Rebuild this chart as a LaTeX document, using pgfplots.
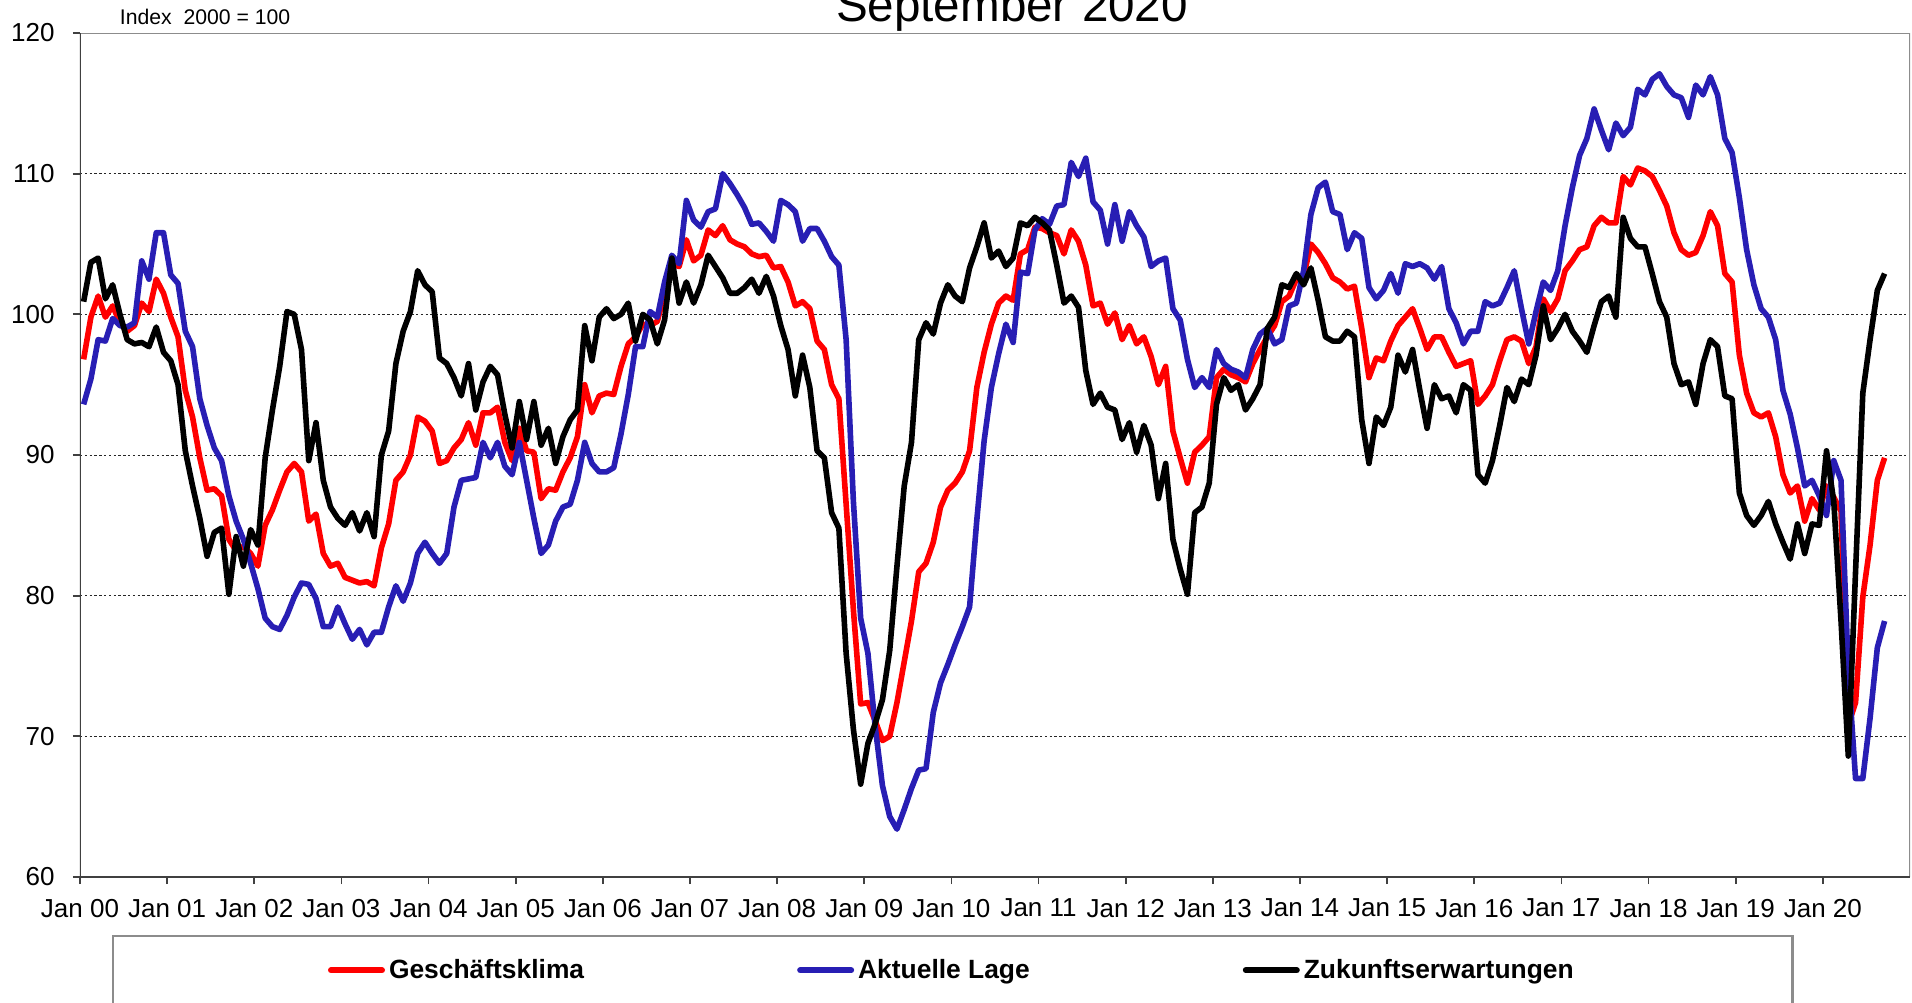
\documentclass[border=0pt]{standalone}
\usepackage{fontspec}
\setmainfont{Liberation Sans}
\usepackage{pgfplots}
\usepackage{pgfplotstable}
\pgfplotsset{compat=1.18}
\definecolor{gkred}{RGB}{255,0,0}
\definecolor{alblue}{RGB}{40,30,180}
\definecolor{axgray}{RGB}{140,140,140}

\pgfplotstableread{
k gk al ze
0 96.8 93.6 100.9
1 99.8 95.4 103.7
2 101.3 98.2 104.0
3 99.8 98.1 101.1
4 100.6 99.7 102.1
5 99.4 99.2 100.0
6 98.8 99.1 98.2
7 99.2 99.4 97.9
8 100.8 103.8 98.0
9 100.2 102.5 97.7
10 102.5 105.8 99.1
11 101.5 105.8 97.3
12 99.8 102.8 96.7
13 98.4 102.2 95.0
14 94.6 98.8 90.3
15 92.7 97.7 87.8
16 89.8 94.0 85.5
17 87.5 92.1 82.8
18 87.6 90.5 84.5
19 87.1 89.6 84.8
20 84.0 87.1 80.1
21 83.2 85.3 84.2
22 83.5 84.0 82.1
23 83.0 82.3 84.7
24 82.1 80.5 83.6
25 85.0 78.4 89.8
26 86.1 77.8 93.2
27 87.5 77.6 96.3
28 88.8 78.6 100.2
29 89.4 79.9 100.0
30 88.8 80.9 97.5
31 85.3 80.8 89.6
32 85.8 79.8 92.3
33 83.0 77.8 88.2
34 82.1 77.8 86.3
35 82.3 79.2 85.5
36 81.3 78.0 85.0
37 81.1 76.9 85.9
38 80.9 77.6 84.6
39 81.0 76.5 85.9
40 80.7 77.4 84.2
41 83.4 77.4 90.0
42 85.1 79.2 91.7
43 88.2 80.7 96.5
44 88.8 79.6 98.8
45 90.0 80.9 100.2
46 92.7 83.0 103.1
47 92.4 83.8 102.1
48 91.7 83.0 101.6
49 89.4 82.3 96.9
50 89.6 83.0 96.5
51 90.5 86.3 95.5
52 91.1 88.2 94.2
53 92.3 88.3 96.5
54 90.7 88.4 93.2
55 93.0 90.9 95.2
56 93.0 89.8 96.3
57 93.4 90.9 95.7
58 90.9 89.2 92.9
59 89.6 88.6 90.5
60 91.9 90.9 93.8
61 90.3 88.2 91.1
62 90.2 85.5 93.8
63 86.9 83.0 90.7
64 87.6 83.6 91.9
65 87.5 85.3 89.4
66 88.8 86.3 91.3
67 89.8 86.5 92.5
68 91.3 88.2 93.2
69 95.0 90.9 99.2
70 93.0 89.4 96.7
71 94.2 88.8 99.8
72 94.4 88.8 100.4
73 94.3 89.1 99.7
74 96.3 91.5 100.0
75 97.9 94.3 100.8
76 98.4 97.7 98.1
77 99.3 97.7 100.0
78 99.2 100.2 99.6
79 99.5 99.8 97.9
80 101.5 102.3 99.6
81 103.6 104.2 104.0
82 103.4 103.6 100.8
83 105.3 108.1 102.3
84 103.8 106.7 100.8
85 104.2 106.2 102.1
86 106.0 107.3 104.2
87 105.6 107.5 103.4
88 106.3 110.0 102.6
89 105.3 109.3 101.5
90 105.0 108.5 101.5
91 104.8 107.6 101.9
92 104.3 106.4 102.5
93 104.1 106.5 101.5
94 104.2 105.9 102.7
95 103.3 105.2 101.3
96 103.4 108.1 99.2
97 102.3 107.8 97.5
98 100.6 107.3 94.2
99 100.9 105.2 97.1
100 100.4 106.1 94.8
101 98.1 106.1 90.3
102 97.5 105.2 89.8
103 95.0 104.1 85.9
104 94.0 103.5 84.8
105 86.5 98.2 75.9
106 79.0 86.7 70.5
107 72.3 78.4 66.6
108 72.4 75.9 69.5
109 71.1 70.7 70.9
110 69.7 66.5 72.6
111 70.0 64.3 76.1
112 72.4 63.4 82.1
113 75.3 64.8 87.8
114 78.2 66.3 90.9
115 81.7 67.6 98.2
116 82.3 67.7 99.4
117 83.8 71.7 98.6
118 86.3 73.8 100.8
119 87.5 75.1 102.1
120 88.0 76.5 101.3
121 88.8 77.8 100.9
122 90.3 79.2 103.3
123 94.8 85.4 104.8
124 97.3 91.0 106.5
125 99.3 94.8 104.0
126 100.8 97.2 104.5
127 101.3 99.3 103.4
128 101.0 98.0 104.0
129 104.3 103.0 106.5
130 104.6 102.9 106.3
131 106.2 106.0 106.9
132 106.1 106.8 106.5
133 105.8 106.4 106.0
134 105.6 107.7 103.5
135 104.3 107.8 100.8
136 106.0 110.8 101.3
137 105.2 109.8 100.5
138 103.5 111.1 96.0
139 100.6 108.0 93.6
140 100.8 107.4 94.4
141 99.3 105.0 93.4
142 100.1 107.8 93.2
143 98.2 105.2 91.1
144 99.2 107.3 92.3
145 97.9 106.3 90.2
146 98.4 105.5 92.1
147 97.0 103.4 90.7
148 95.0 103.8 86.9
149 96.3 104.0 89.4
150 91.7 100.4 84.0
151 89.8 99.6 81.9
152 88.0 96.8 80.1
153 90.2 94.8 85.9
154 90.7 95.5 86.3
155 91.3 94.8 88.0
156 95.5 97.5 93.6
157 96.1 96.5 95.5
158 95.7 96.1 94.6
159 95.5 95.9 95.0
160 95.2 95.5 93.2
161 96.5 97.5 94.0
162 97.5 98.6 95.0
163 98.4 99.0 99.0
164 99.2 97.9 99.8
165 100.9 98.2 102.1
166 101.3 100.6 101.9
167 102.5 100.8 102.9
168 102.7 103.1 102.1
169 105.0 107.1 103.3
170 104.4 109.0 101.0
171 103.6 109.4 98.4
172 102.6 107.3 98.1
173 102.3 107.1 98.1
174 101.8 104.6 98.8
175 102.0 105.8 98.4
176 99.0 105.4 92.5
177 95.5 101.9 89.4
178 96.9 101.1 92.7
179 96.7 101.7 92.1
180 98.1 102.9 93.4
181 99.2 101.5 97.1
182 99.8 103.6 95.9
183 100.4 103.4 97.5
184 99.0 103.6 94.6
185 97.5 103.3 91.9
186 98.4 102.5 95.0
187 98.4 103.4 94.0
188 97.3 100.4 94.2
189 96.3 99.4 93.0
190 96.5 97.9 95.0
191 96.7 98.8 94.6
192 93.6 98.8 88.6
193 94.2 100.9 88.0
194 95.0 100.6 89.6
195 96.7 100.8 92.1
196 98.2 101.9 94.8
197 98.4 103.1 93.8
198 98.1 100.4 95.4
199 96.5 97.9 95.0
200 97.7 100.2 97.1
201 101.1 102.3 100.6
202 100.2 101.7 98.2
203 101.1 103.1 99.0
204 103.1 106.3 100.0
205 103.8 109.0 98.8
206 104.6 111.3 98.1
207 104.8 112.5 97.3
208 106.3 114.6 99.2
209 106.9 113.1 100.9
210 106.5 111.7 101.3
211 106.5 113.6 99.8
212 109.8 112.7 106.9
213 109.2 113.3 105.4
214 110.4 116.0 104.8
215 110.2 115.6 104.8
216 109.8 116.7 102.9
217 108.8 117.1 100.9
218 107.7 116.2 99.8
219 105.8 115.6 96.5
220 104.6 115.4 95.0
221 104.2 114.0 95.2
222 104.4 116.3 93.6
223 105.6 115.6 96.5
224 107.3 116.9 98.2
225 106.3 115.6 97.7
226 102.9 112.5 94.2
227 102.3 111.5 94.0
228 97.1 108.3 87.3
229 94.4 104.6 85.7
230 93.0 102.1 85.0
231 92.7 100.4 85.7
232 93.0 99.8 86.7
233 91.3 98.2 85.1
234 88.6 94.6 83.8
235 87.3 92.9 82.6
236 87.8 90.5 85.1
237 85.3 87.8 83.0
238 86.9 88.2 85.1
239 86.1 87.1 85.0
240 87.8 85.7 90.3
241 87.0 89.6 86.7
242 86.0 88.2 78.2
243 70.8 74.7 68.6
244 72.4 67.0 81.7
245 79.9 67.0 94.4
246 83.6 71.3 98.2
247 88.2 76.3 101.7
248 89.8 78.2 102.9
}\ifodata

\begin{document}
\begin{tikzpicture}
\useasboundingbox (0,0) rectangle (956pt,501pt);
\begin{axis}[
  at={(40pt,62.5pt)}, anchor=south west,
  width=915pt, height=422pt, scale only axis,
  xmin=0, xmax=252, ymin=60, ymax=120,
  axis line style={draw=none},
  tick pos=left,
  tick align=outside,
  major tick length=3.5pt,
  tick style={black!75, line width=0.9pt},
  xtick={0,12,...,240},
  xticklabels={Jan 00,Jan 01,Jan 02,Jan 03,Jan 04,Jan 05,Jan 06,Jan 07,Jan 08,Jan 09,Jan 10,Jan 11,Jan 12,Jan 13,Jan 14,Jan 15,Jan 16,Jan 17,Jan 18,Jan 19,Jan 20},
  ytick={60,70,...,120},
  yticklabels={60,70,80,90,100,110,120},
  xticklabel style={font=\fontsize{13}{15}\selectfont, anchor=north, inner sep=0pt, yshift=-7.3pt},
  yticklabel style={font=\fontsize{13}{15}\selectfont, anchor=east, inner sep=0pt, xshift=-9pt},
  ymajorgrids,
  grid style={black!85, line width=0.5pt, dash pattern=on 1.2pt off 1.2pt},
  no markers,
  legend columns=3,
  legend style={
    at={(0.01749,-0.06872)}, anchor=north west,
    draw=axgray, line width=1.2pt, fill=white,
    inner xsep=107.4pt, inner ysep=9.5pt,
    font=\fontsize{13.2}{15}\selectfont\bfseries,
    /tikz/every even column/.append style={column sep=104.5pt},
    nodes={inner sep=2pt, text depth=0.15em},
  },
  legend image code/.code={\draw[#1, line width=3pt, line cap=round] (0pt,0pt) -- (25.5pt,0pt);},
]
\addplot[gkred, line width=2.8pt, line join=round] table[x expr=\thisrow{k}+0.5, y=gk] {\ifodata};
\addlegendentry{Geschäftsklima}
\addplot[alblue, line width=2.8pt, line join=round] table[x expr=\thisrow{k}+0.5, y=al] {\ifodata};
\addlegendentry{Aktuelle Lage}
\addplot[black, line width=2.8pt, line join=round] table[x expr=\thisrow{k}+0.5, y=ze] {\ifodata};
\addlegendentry{Zukunftserwartungen}
\draw[axgray, line width=1.2pt] (rel axis cs:0,1) -- (rel axis cs:1,1) -- (rel axis cs:1,0);
\draw[black!75, line width=1pt] (rel axis cs:0,1) -- (rel axis cs:0,0) -- (rel axis cs:1,0);
\end{axis}
\node[anchor=base, inner sep=0pt, font=\fontsize{23.8}{28}\selectfont] at (506pt,490pt) {September 2020};
\node[anchor=base west, inner sep=0pt, font=\fontsize{10.6}{12}\selectfont] at (59.75pt,488.8pt) {Index\ \ 2000 = 100};
\end{tikzpicture}
\end{document}
